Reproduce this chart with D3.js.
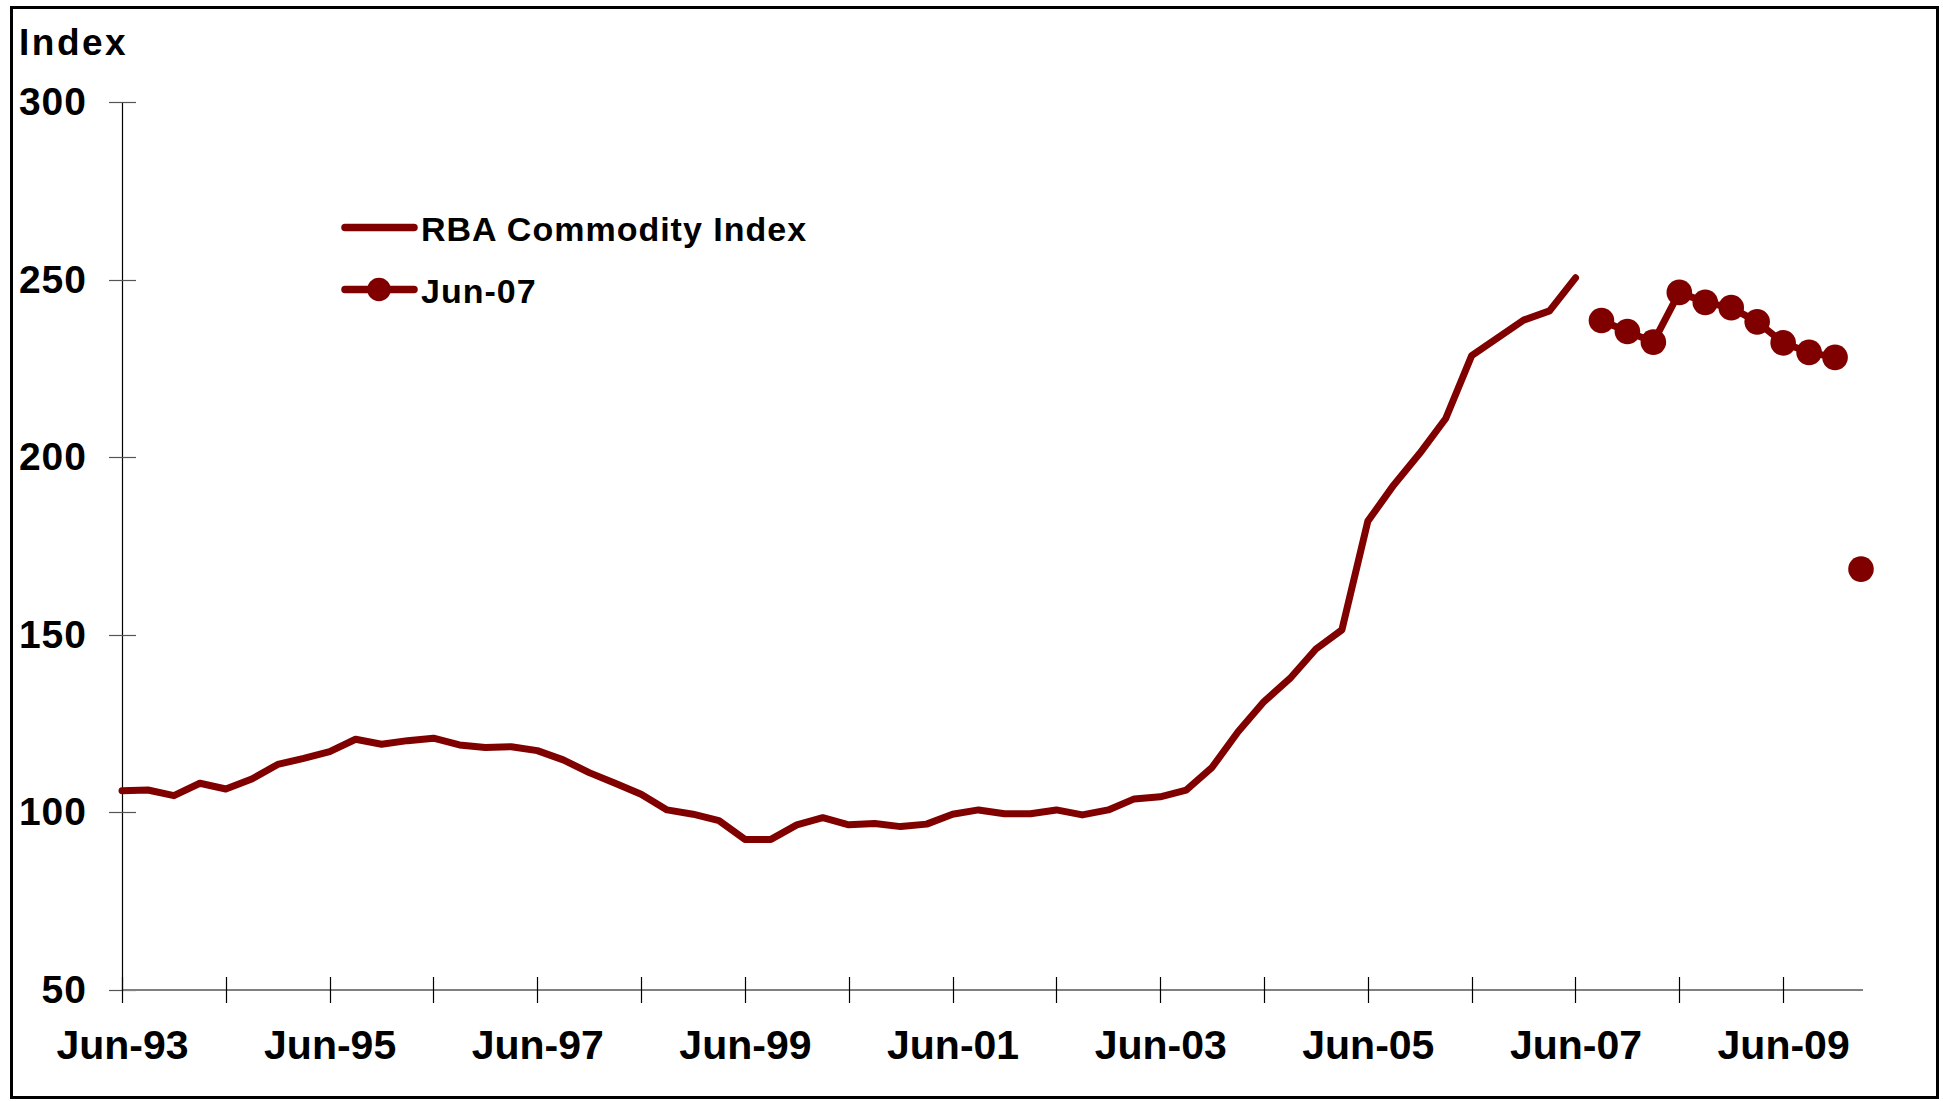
<!DOCTYPE html>
<html>
<head>
<meta charset="utf-8">
<script src="https://cdn.jsdelivr.net/npm/d3@7"></script>
<style>
  html, body { margin: 0; padding: 0; background: #fff; }
  svg { display: block; }
  text { font-family: "Liberation Sans", Arial, sans-serif; font-weight: bold; fill: #000; }
</style>
</head>
<body>
<svg id="chart" width="1943" height="1101"></svg>
<script>
// Quarterly categories, Jun-93 .. Mar-10
const categories = [
  "Jun-93","Sep-93","Dec-93","Mar-94","Jun-94","Sep-94","Dec-94","Mar-95",
  "Jun-95","Sep-95","Dec-95","Mar-96","Jun-96","Sep-96","Dec-96","Mar-97",
  "Jun-97","Sep-97","Dec-97","Mar-98","Jun-98","Sep-98","Dec-98","Mar-99",
  "Jun-99","Sep-99","Dec-99","Mar-00","Jun-00","Sep-00","Dec-00","Mar-01",
  "Jun-01","Sep-01","Dec-01","Mar-02","Jun-02","Sep-02","Dec-02","Mar-03",
  "Jun-03","Sep-03","Dec-03","Mar-04","Jun-04","Sep-04","Dec-04","Mar-05",
  "Jun-05","Sep-05","Dec-05","Mar-06","Jun-06","Sep-06","Dec-06","Mar-07",
  "Jun-07","Sep-07","Dec-07","Mar-08","Jun-08","Sep-08","Dec-08","Mar-09",
  "Jun-09","Sep-09","Dec-09","Mar-10"
];

// RBA Commodity Index, Jun-93 .. Jun-07
const rbaIndex = [
  106.1, 106.3, 104.7, 108.2, 106.6, 109.4, 113.5, 115.2,
  117.1, 120.6, 119.2, 120.2, 120.9, 119.0, 118.3, 118.5,
  117.4, 114.8, 111.2, 108.2, 105.1, 100.7, 99.5, 97.7,
  92.4, 92.4, 96.5, 98.5, 96.5, 96.9, 96.0, 96.7,
  99.5, 100.7, 99.6, 99.6, 100.7, 99.3, 100.7, 103.8,
  104.4, 106.3, 112.7, 122.7, 131.2, 137.7, 146.0, 151.4,
  182.0, 192.2, 201.1, 210.9, 228.6, 233.6, 238.6, 241.2,
  250.5
];

// Jun-07 series, Sep-07 .. Dec-09
const jun07Cats = ["Sep-07","Dec-07","Mar-08","Jun-08","Sep-08","Dec-08","Mar-09","Jun-09","Sep-09","Dec-09"];
const jun07Values = [238.5, 235.4, 232.4, 246.4, 243.6, 242.1, 238.1, 232.2, 229.5, 228.1];

// Lone marker point
const loneCats = ["Mar-10"];
const loneValues = [168.5];

const yTicks = [50, 100, 150, 200, 250, 300];
const xTickCats = categories.filter(c => c.startsWith("Jun"));
const xLabelCats = ["Jun-93","Jun-95","Jun-97","Jun-99","Jun-01","Jun-03","Jun-05","Jun-07","Jun-09"];

const seriesNames = ["RBA Commodity Index", "Jun-07"];
const color = "#800000";

const svg = d3.select("#chart");

// outer frame
svg.append("rect")
  .attr("x", 11.5).attr("y", 7.5).attr("width", 1926).attr("height", 1090)
  .attr("fill", "none").attr("stroke", "#000").attr("stroke-width", 3);

const x = d3.scalePoint().domain(categories).range([122, 1861]);
const y = d3.scaleLinear().domain([50, 300]).range([990, 102]);

// y axis
const yAxis = svg.append("g").attr("transform", "translate(122,0)")
  .call(d3.axisLeft(y).tickValues(yTicks).tickSize(0).tickPadding(35).tickFormat(d3.format("d")));
yAxis.select(".domain").remove();
yAxis.selectAll("text").style("font-size", "39px").style("letter-spacing", "1px")
  .attr("font-family", null);
svg.append("line").attr("x1", 122.5).attr("x2", 122.5).attr("y1", y(300)).attr("y2", y(50))
  .attr("stroke", "#000").attr("stroke-width", 1.2);
svg.append("g").selectAll("line").data(yTicks).join("line")
  .attr("x1", 109).attr("x2", 136)
  .attr("y1", d => Math.round(y(d)) + 0.5).attr("y2", d => Math.round(y(d)) + 0.5)
  .attr("stroke", "#555").attr("stroke-width", 1.2);

// x axis
const xAxis = svg.append("g").attr("transform", "translate(0,990)")
  .call(d3.axisBottom(x).tickValues(xLabelCats).tickSize(0).tickPadding(40));
xAxis.select(".domain").remove();
xAxis.selectAll("text").style("font-size", "41px").attr("font-family", null);
svg.append("line").attr("x1", 122).attr("x2", 1863).attr("y1", 990).attr("y2", 990)
  .attr("stroke", "#808080").attr("stroke-width", 2.2);
svg.append("g").selectAll("line").data(xTickCats).join("line")
  .attr("x1", d => Math.round(x(d)) + 0.5).attr("x2", d => Math.round(x(d)) + 0.5)
  .attr("y1", 977).attr("y2", 1003)
  .attr("stroke", "#000").attr("stroke-width", 1.2);

// y-axis title
svg.append("text").attr("x", 19).attr("y", 55)
  .style("font-size", "37px").style("letter-spacing", "2.5px").text("Index");

// lines
const line = d3.line().x(d => x(d[0])).y(d => y(d[1]));
const rbaData = rbaIndex.map((v, i) => [categories[i], v]);
svg.append("path").datum(rbaData).attr("d", line)
  .attr("fill", "none").attr("stroke", color).attr("stroke-width", 7)
  .attr("stroke-linejoin", "round").attr("stroke-linecap", "round");

const jData = jun07Values.map((v, i) => [jun07Cats[i], v]);
svg.append("path").datum(jData).attr("d", line)
  .attr("fill", "none").attr("stroke", color).attr("stroke-width", 7)
  .attr("stroke-linejoin", "round");
svg.append("g").selectAll("circle").data(jData).join("circle")
  .attr("cx", d => x(d[0])).attr("cy", d => y(d[1])).attr("r", 12.8).attr("fill", color);

const lData = loneValues.map((v, i) => [loneCats[i], v]);
svg.append("g").selectAll("circle").data(lData).join("circle")
  .attr("cx", d => x(d[0])).attr("cy", d => y(d[1])).attr("r", 12.8).attr("fill", color);

// legend
const leg = svg.append("g");
leg.append("line").attr("x1", 345).attr("x2", 414).attr("y1", 227.5).attr("y2", 227.5)
  .attr("stroke", color).attr("stroke-width", 7.5).attr("stroke-linecap", "round");
leg.append("text").attr("x", 421).attr("y", 241).style("font-size", "34px")
  .style("letter-spacing", "1px").text(seriesNames[0]);
leg.append("line").attr("x1", 345).attr("x2", 414).attr("y1", 289.5).attr("y2", 289.5)
  .attr("stroke", color).attr("stroke-width", 7.5).attr("stroke-linecap", "round");
leg.append("circle").attr("cx", 379).attr("cy", 289.5).attr("r", 11.8).attr("fill", color);
leg.append("text").attr("x", 421).attr("y", 302.5).style("font-size", "34px")
  .style("letter-spacing", "1px").text(seriesNames[1]);
</script>
</body>
</html>
